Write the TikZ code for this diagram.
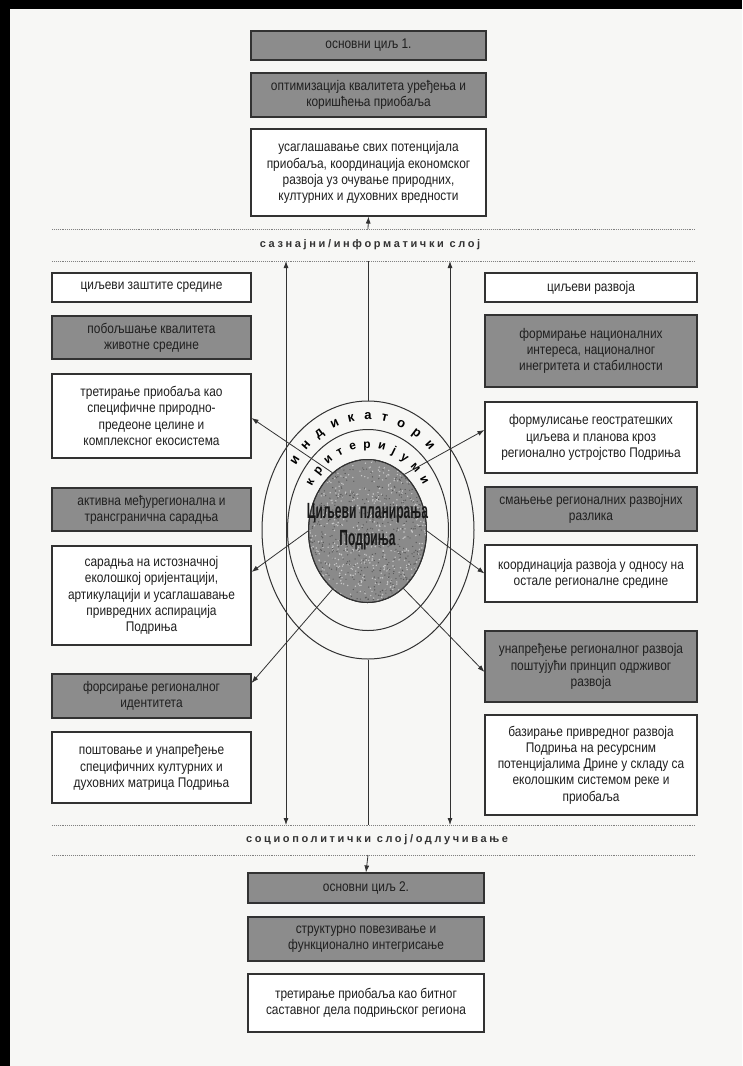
\documentclass[tikz,border=0pt]{standalone}
\usepackage{fontspec}
\setmainfont{Liberation Sans}[FakeStretch=0.85]
\newfontfamily\layerfont{Liberation Sans}[LetterSpace=24]
\newfontfamily\corefont{Liberation Sans}[FakeStretch=0.55]
\newfontfamily\ringfont{Liberation Sans}
\usetikzlibrary{arrows.meta,shapes.geometric,decorations.text}

\definecolor{paper}{RGB}{247,247,245}
\definecolor{boxgray}{RGB}{140,140,140}
\definecolor{inkgray}{RGB}{50,50,50}
\definecolor{coregray}{RGB}{138,138,138}

\tikzset{
  goalbox/.style={draw=inkgray, line width=1.1pt, text=black!88, align=center, inner sep=2pt, font=\fontsize{14}{16.2}\selectfont},
  darkbox/.style={goalbox, fill=boxgray},
  lightbox/.style={goalbox, fill=white},
  midcol/.style={minimum width=235pt},
  leftcol/.style={minimum width=199pt},
  rightcol/.style={minimum width=212pt},
  layerline/.style={draw=gray, line width=0.9pt, densely dotted},
  link/.style={draw=inkgray, line width=0.8pt},
  tip/.style={-{Latex[length=7pt,width=5pt]}},
  bothtips/.style={{Latex[length=7pt,width=5pt]}-{Latex[length=7pt,width=5pt]}},
  ring/.style={ellipse, draw=inkgray, line width=1pt, inner sep=0pt}
}

\begin{document}
\begin{tikzpicture}[x=1pt, y=-1pt]
\useasboundingbox (0,0) rectangle (742,1066);
\fill[paper] (0,0) rectangle (742,1066);
\fill[black] (0,0) rectangle (10,1066);
\fill[black] (0,0) rectangle (742,9);

\node[darkbox, midcol, minimum height=29pt] (top1) at (368.5,45.5) {основни циљ 1.};
\node[darkbox, midcol, minimum height=44pt] (top2) at (368.5,95) {оптимизација квалитета уређења и\\коришћења приобаља};
\node[lightbox, midcol, minimum height=87pt] (top3) at (368.5,172.5) {усаглашавање свих потенцијала\\приобаља, координација економског\\развоја уз очување природних,\\културних и духовних вредности};

\coordinate (la1) at (52,229);
\coordinate (lb1) at (695,229);
\coordinate (la2) at (52,261);
\coordinate (lb2) at (695,261);
\coordinate (la3) at (52,825);
\coordinate (lb3) at (695,825);
\coordinate (la4) at (52,855);
\coordinate (lb4) at (695,855);
\draw[layerline] (la1) -- (lb1);
\draw[layerline] (la2) -- (lb2);
\draw[layerline] (la3) -- (lb3);
\draw[layerline] (la4) -- (lb4);
\node[font=\layerfont\bfseries\fontsize{11}{13}\selectfont, text=black!80] (know) at (370,245) {сазнајни/информатички слој};
\node[font=\layerfont\bfseries\fontsize{11}{13}\selectfont, text=black!80] (decide) at (377,840) {социополитички слој/одлучивање};

\node[lightbox, leftcol, minimum height=29pt] (L1) at (151.5,287.5) {циљеви заштите средине};
\node[darkbox, leftcol, minimum height=43pt] (L2) at (151.5,337.5) {побољшање квалитета\\животне средине};
\node[lightbox, leftcol, minimum height=84pt] (L3) at (151.5,416) {третирање приобаља као\\специфичне природно-\\предеоне целине и\\комплексног екосистема};
\node[darkbox, leftcol, minimum height=43pt] (L4) at (151.5,509.5) {активна међурегионална и\\трансгранична сарадња};
\node[lightbox, leftcol, minimum height=99pt] (L5) at (151.5,595.5) {сарадња на истозначној\\еколошкој оријентацији,\\артикулацији и усаглашавање\\привредних аспирација\\Подриња};
\node[darkbox, leftcol, minimum height=44pt] (L6) at (151.5,696) {форсирање регионалног\\идентитета};
\node[lightbox, leftcol, minimum height=71pt] (L7) at (151.5,767.5) {поштовање и унапређење\\специфичних културних и\\духовних матрица Подриња};

\node[lightbox, rightcol, minimum height=29pt] (R1) at (591,287.5) {циљеви развоја};
\node[darkbox, rightcol, minimum height=72pt] (R2) at (591,351) {формирање националних\\интереса, националног\\инегритета и стабилности};
\node[lightbox, rightcol, minimum height=71pt] (R3) at (591,437.5) {формулисање геостратешких\\циљева и планова кроз\\регионално устројство Подриња};
\node[darkbox, rightcol, minimum height=44pt] (R4) at (591,509) {смањење регионалних развојних\\разлика};
\node[lightbox, rightcol, minimum height=57pt] (R5) at (591,573.5) {координација развоја у односу на\\остале регионалне средине};
\node[darkbox, rightcol, minimum height=71pt] (R6) at (591,666.5) {унапређење регионалног развоја\\поштујући принцип одрживог\\развоја};
\node[lightbox, rightcol, minimum height=100pt] (R7) at (591,765) {базирање привредног развоја\\Подриња на ресурсним\\потенцијалима Дрине у складу са\\еколошким системом реке и\\приобаља};

\node[darkbox, minimum width=236pt, minimum height=30pt] (bot1) at (366,888) {основни циљ 2.};
\node[darkbox, minimum width=236pt, minimum height=44pt] (bot2) at (366,939) {структурно повезивање и\\функционално интегрисање};
\node[lightbox, minimum width=236pt, minimum height=58pt] (bot3) at (366,1003) {третирање приобаља као битног\\саставног дела подрињског региона};

\node[ring, minimum width=212pt, minimum height=258pt] (outer) at (368,530) {};
\node[ring, minimum width=161pt, minimum height=201pt] (middle) at (368,530) {};
\node[ring, fill=coregray, minimum width=118pt, minimum height=143pt] (core) at (367.5,531) {};
\begin{scope}
\pgfmathsetseed{11}
\clip (367.5,531) ellipse [x radius=58.5, y radius=71];
\foreach \k in {1,...,600} \fill[black!22] ({367.5+60*rand},{531+72*rand}) circle (0.8pt);
\foreach \k in {1,...,600} \fill[black!65] ({367.5+60*rand},{531+72*rand}) circle (0.7pt);
\end{scope}
\draw[inkgray, line width=1pt] (core) ellipse [x radius=59, y radius=71.5];
\node[font=\corefont\bfseries\fontsize{22}{27}\selectfont, text=black!90, align=center] (title) at (367.5,527) {Циљеви планирања\\Подриња};

\path[decorate, decoration={text along path, text={|\ringfont\bfseries\fontsize{13}{13}\selectfont|индикатори}, text align={fit to path}}]
  (368,530) ++(-144:89 and 110.5) arc[start angle=-144, end angle=-46, x radius=89, y radius=110.5];
\path[decorate, decoration={text along path, text={|\ringfont\bfseries\fontsize{12}{12}\selectfont|критеријуми}, text align={fit to path}}]
  (368,530) ++(-148:66 and 82) arc[start angle=-148, end angle=-33, x radius=66, y radius=82];

\coordinate (up1) at (368,229);
\coordinate (midtop) at (368,261);
\coordinate (midbot) at (368,825);
\coordinate (down1) at (368,855);
\coordinate (lefttop) at (286,261);
\coordinate (leftbot) at (286,825);
\coordinate (righttop) at (450,261);
\coordinate (rightbot) at (450,825);
\draw[link, tip] (up1) -- (top3.south);
\draw[link, tip] (down1) -- (bot1.north);
\draw[link] (midtop) -- (outer.north);
\draw[link] (outer.south) -- (midbot);
\draw[link, bothtips] (lefttop) -- (leftbot);
\draw[link, bothtips] (righttop) -- (rightbot);

\draw[link, tip] (core.121) -- ([yshift=-2pt]L3.east);
\draw[link, tip] (core.57) -- ([yshift=7.5pt]R3.west);
\draw[link, tip] (core.180) -- ([yshift=23.5pt]L5.east);
\draw[link, tip] (core.0) -- (R5.west);
\draw[link, tip] (core.239) -- ([yshift=13pt]L6.east);
\draw[link, tip] (core.302) -- ([yshift=-5.5pt]R6.west);
\end{tikzpicture}
\end{document}
